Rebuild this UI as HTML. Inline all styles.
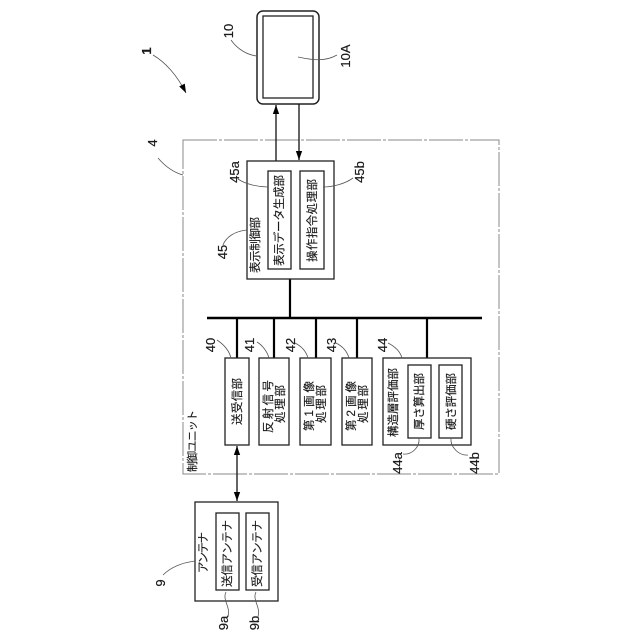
<!DOCTYPE html>
<html><head><meta charset="utf-8"><style>
html,body{margin:0;padding:0;background:#fff}
svg{display:block}
text{font-family:"Liberation Sans","Noto Sans CJK JP",sans-serif;fill:#1a1a1a}
.j{font-size:11.5px;stroke:#1a1a1a;stroke-width:.15}
.s{font-size:11px}
.n{font-size:13px;stroke:#1a1a1a;stroke-width:.2}
.b{fill:#fff;stroke:#222;stroke-width:1.3}
.l{fill:none;stroke:#555;stroke-width:.8}
.w{fill:none;stroke:#111;stroke-width:1.3}
.t{fill:none;stroke:#000;stroke-width:2.2}
</style></head><body>
<svg width="640" height="640" viewBox="0 0 640 640" xmlns="http://www.w3.org/2000/svg">
<defs>
<marker id="a" viewBox="0 0 10 10" refX="10" refY="5" markerWidth="9" markerHeight="9" markerUnits="userSpaceOnUse" orient="auto-start-reverse"><path d="M0 1.5L10 5L0 8.5Z" fill="#000"/></marker>
</defs>
<!-- monitor -->
<rect x="257" y="11" width="62" height="93" rx="6" class="b" style="stroke-width:1.5"/>
<rect x="263" y="16" width="50" height="82" class="b"/>
<!-- dashed unit -->
<rect x="183" y="140" width="316" height="334" fill="none" stroke="#888" stroke-width="1" stroke-dasharray="34 2 3 2"/>
<!-- arrows -->
<path d="M276 161V105" class="w" marker-end="url(#a)"/>
<path d="M299 104V160" class="w" marker-end="url(#a)"/>
<path d="M237 446V501" class="w" marker-start="url(#a)" marker-end="url(#a)"/>
<!-- bus -->
<path d="M207 318H482" class="t" style="stroke-width:2.6"/>
<path d="M290 279V318M237 318V358M274 318V358M316 318V358M357 318V358M427 318V358" class="t"/>
<!-- boxes -->
<rect x="247" y="161" width="87" height="118" class="b"/>
<rect x="268" y="171" width="23" height="98" class="b"/>
<rect x="300" y="171" width="24" height="98" class="b"/>
<rect x="225" y="358" width="24" height="87" class="b"/>
<rect x="259" y="358" width="30" height="87" class="b"/>
<rect x="300" y="358" width="31" height="87" class="b"/>
<rect x="342" y="358" width="30" height="87" class="b"/>
<rect x="383" y="358" width="88" height="87" class="b"/>
<rect x="408" y="365" width="23" height="73" class="b"/>
<rect x="439" y="365" width="23" height="73" class="b"/>
<rect x="195" y="502" width="83" height="99" class="b"/>
<rect x="216" y="513" width="23" height="77" class="b"/>
<rect x="246" y="513" width="23" height="77" class="b"/>
<!-- leaders -->
<path d="M153 55C165 62 177 75 186 93" class="l" marker-end="url(#a)"/>
<path d="M231 40C238 50 248 55 257 56" class="l"/>
<path d="M298 57C312 60 325 62 337 55" class="l"/>
<path d="M158 158C164 165 172 172 183 175" class="l"/>
<path d="M238 179C245 184 258 187 268 187" class="l"/>
<path d="M323 187C332 187 345 184 353 178" class="l"/>
<path d="M223 245C226 237 235 231 247 230" class="l"/>
<path d="M217 340C223 344 229 350 231 358" class="l"/>
<path d="M257 342C262 345 267 351 269 358" class="l"/>
<path d="M295 343C301 346 306 351 308 358" class="l"/>
<path d="M336 343C342 346 347 351 349 358" class="l"/>
<path d="M388 343C394 346 400 351 402 358" class="l"/>
<path d="M419 438C420 447 412 455 403 454" class="l"/>
<path d="M451 438C450 447 459 456 468 455" class="l"/>
<path d="M195 561C180 563 170 568 163 575" class="l"/>
<path d="M226 592C222 600 231 607 228 617" class="l"/>
<path d="M256 592C252 600 261 607 258 617" class="l"/>
<!-- numbers -->
<text transform="translate(151,51) rotate(-90)" text-anchor="middle" class="n" font-weight="bold">1</text>
<text transform="translate(233,31) rotate(-90)" text-anchor="middle" class="n">10</text>
<text transform="translate(350,56) rotate(-90)" text-anchor="middle" class="n">10A</text>
<text transform="translate(157,143) rotate(-90)" text-anchor="middle" class="n">4</text>
<text transform="translate(239,172) rotate(-90)" text-anchor="middle" class="n">45a</text>
<text transform="translate(364,172) rotate(-90)" text-anchor="middle" class="n">45b</text>
<text transform="translate(227,252) rotate(-90)" text-anchor="middle" class="n">45</text>
<text transform="translate(215,345) rotate(-90)" text-anchor="middle" class="n">40</text>
<text transform="translate(254,345) rotate(-90)" text-anchor="middle" class="n">41</text>
<text transform="translate(295,345) rotate(-90)" text-anchor="middle" class="n">42</text>
<text transform="translate(336,345) rotate(-90)" text-anchor="middle" class="n">43</text>
<text transform="translate(387,345) rotate(-90)" text-anchor="middle" class="n">44</text>
<text transform="translate(402,463) rotate(-90)" text-anchor="middle" class="n">44a</text>
<text transform="translate(479,463) rotate(-90)" text-anchor="middle" class="n">44b</text>
<text transform="translate(165,583) rotate(-90)" text-anchor="middle" class="n">9</text>
<text transform="translate(228,623) rotate(-90)" text-anchor="middle" class="n">9a</text>
<text transform="translate(259,623) rotate(-90)" text-anchor="middle" class="n">9b</text>
<!-- labels -->
<text class="j" transform="translate(259,273) rotate(-90)" textLength="56" lengthAdjust="spacing">表示制御部</text>
<text class="j" transform="translate(283,266) rotate(-90)" textLength="91" lengthAdjust="spacing">表示データ生成部</text>
<text class="j" transform="translate(316,262) rotate(-90)" textLength="83" lengthAdjust="spacing">操作指令処理部</text>
<text class="j" transform="translate(241,425) rotate(-90)" textLength="47" lengthAdjust="spacing">送受信部</text>
<text class="j" transform="translate(272,433) rotate(-90)" textLength="53" lengthAdjust="spacing">反射信号</text>
<text class="j" transform="translate(284,423) rotate(-90)" textLength="38" lengthAdjust="spacing">処理部</text>
<text class="j" transform="translate(313,431) rotate(-90)" textLength="50" lengthAdjust="spacing">第1画像</text>
<text class="j" transform="translate(325,423) rotate(-90)" textLength="38" lengthAdjust="spacing">処理部</text>
<text class="j" transform="translate(355,431) rotate(-90)" textLength="50" lengthAdjust="spacing">第2画像</text>
<text class="j" transform="translate(367,423) rotate(-90)" textLength="38" lengthAdjust="spacing">処理部</text>
<text class="j" transform="translate(397,437) rotate(-90)" textLength="69" lengthAdjust="spacing">構造層評価部</text>
<text class="j" transform="translate(423,430) rotate(-90)" textLength="57" lengthAdjust="spacing">厚さ算出部</text>
<text class="j" transform="translate(455,430) rotate(-90)" textLength="57" lengthAdjust="spacing">硬さ評価部</text>
<text class="j s" transform="translate(196,472) rotate(-90)" textLength="62" lengthAdjust="spacing">制御ユニット</text>
<text class="j" transform="translate(207,573) rotate(-90)" textLength="41" lengthAdjust="spacing">アンテナ</text>
<text class="j" transform="translate(231,587) rotate(-90)" textLength="67" lengthAdjust="spacing">送信アンテナ</text>
<text class="j" transform="translate(261,587) rotate(-90)" textLength="67" lengthAdjust="spacing">受信アンテナ</text>
</svg>
</body></html>
